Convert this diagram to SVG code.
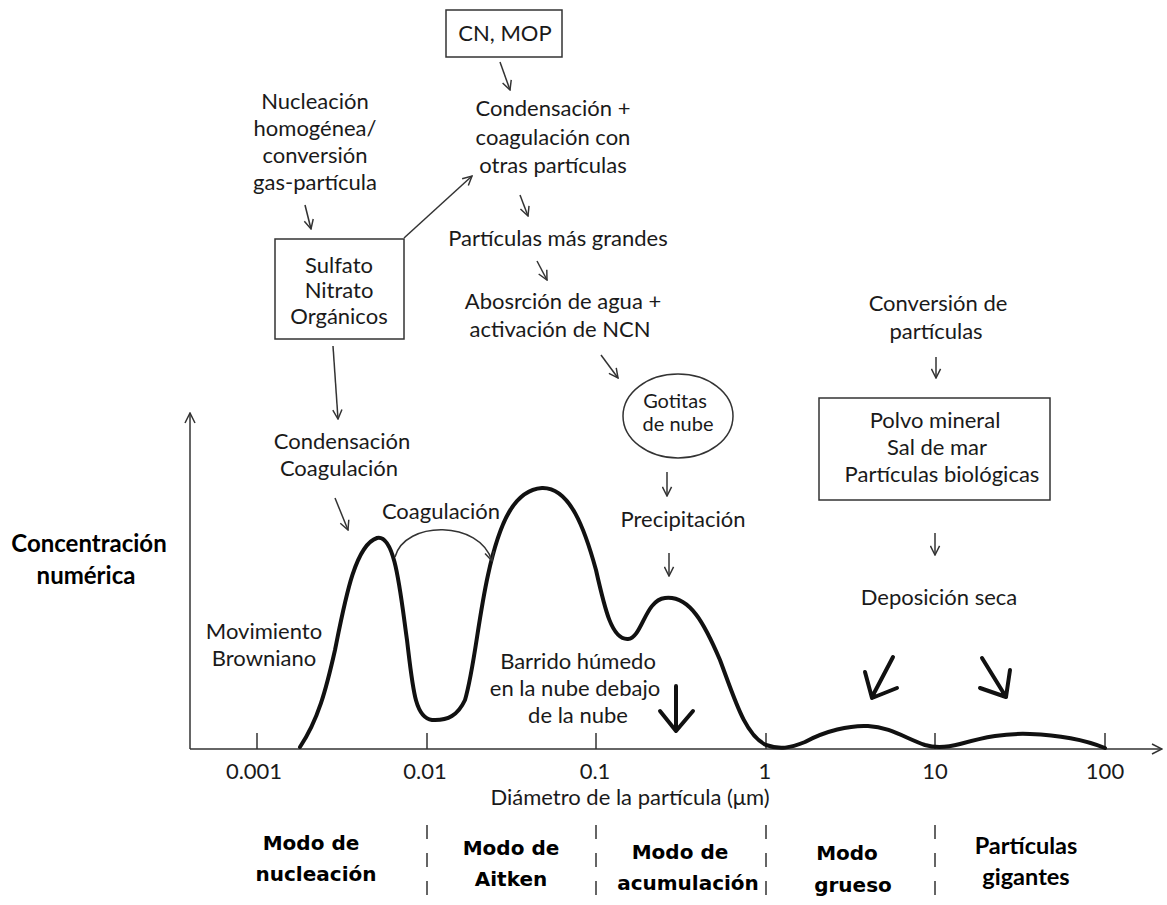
<svg xmlns="http://www.w3.org/2000/svg" width="1167" height="905" viewBox="0 0 1167 905">
<defs>
<style>
text{font-family:Lato,"Open Sans",sans-serif;fill:#1a1a1a;text-anchor:middle}
.t{font-size:22px}
.g{font-size:20px}
.b{font-size:24px;font-weight:bold;fill:#000}
.m{font-family:"DejaVu Sans",Verdana,sans-serif;font-size:20px;font-weight:bold;fill:#000}
.ax{font-size:22px}
.ln{fill:none;stroke:#333;stroke-width:1.5}
.box{fill:#fff;stroke:#333;stroke-width:1.5}
.thick{fill:none;stroke:#111;stroke-width:4;stroke-linejoin:round;stroke-linecap:round}
.dash{stroke:#333;stroke-width:1.5;stroke-dasharray:14,14}
</style>
<marker id="v" viewBox="0 0 12 12" refX="11" refY="6" markerWidth="12" markerHeight="12" markerUnits="userSpaceOnUse" orient="auto">
<path d="M1,1 L11,6 L1,11" fill="none" stroke="#333" stroke-width="1.5"/>
</marker>
<marker id="vs" viewBox="0 0 12 12" refX="11" refY="6" markerWidth="11" markerHeight="11" markerUnits="userSpaceOnUse" orient="auto">
<path d="M1,1 L11,6 L1,11" fill="none" stroke="#333" stroke-width="1.6"/>
</marker>
</defs>
<rect width="1167" height="905" fill="#fff"/>

<g id="axes">
<line x1="190" y1="749" x2="1162" y2="749" class="ln" marker-end="url(#v)"/>
<line x1="190" y1="749" x2="190" y2="413" class="ln" marker-end="url(#v)"/>
<g class="ln">
<line x1="257" y1="733" x2="257" y2="749"/>
<line x1="427" y1="733" x2="427" y2="749"/>
<line x1="596" y1="733" x2="596" y2="749"/>
<line x1="766" y1="733" x2="766" y2="749"/>
<line x1="935" y1="733" x2="935" y2="749"/>
<line x1="1105" y1="733" x2="1105" y2="749"/>
</g>
<text class="ax" x="254" y="779">0.001</text>
<text class="ax" x="425" y="779">0.01</text>
<text class="ax" x="595" y="779">0.1</text>
<text class="ax" x="765" y="779">1</text>
<text class="ax" x="935" y="779">10</text>
<text class="ax" x="1105" y="779">100</text>
<text class="ax" x="630" y="805">Diámetro de la partícula (μm)</text>
<text class="b" x="89" y="552">Concentración</text>
<text class="b" x="86" y="584">numérica</text>
</g>

<g id="curve">
<path class="thick" d="M300,747 C318,720 326,690 335,650 C345,600 355,545 377,538 C395,534 400,590 407,640 C413,690 415,718 432,720 C448,721 458,715 465,700 C474,670 478,620 488,575 C500,520 515,490 542,488 C570,487 585,530 596,570 C605,610 612,640 628,639 C642,638 645,600 665,598 C690,595 705,625 720,660 C735,700 745,735 766,745 C780,750 790,748 805,742 C825,731 850,725 868,726 C890,727 905,738 925,745 C935,748 945,748 960,744 C985,737 1005,733 1030,734 C1060,735 1085,740 1105,748"/>
</g>

<g id="modes">
<line x1="427" y1="825" x2="427" y2="905" class="dash"/>
<line x1="596" y1="825" x2="596" y2="905" class="dash"/>
<line x1="766" y1="825" x2="766" y2="905" class="dash"/>
<line x1="935" y1="825" x2="935" y2="905" class="dash"/>
<text class="m" x="311" y="850">Modo de</text>
<text class="m" x="316" y="881">nucleación</text>
<text class="m" x="511" y="855">Modo de</text>
<text class="m" x="511" y="886">Aitken</text>
<text class="m" x="680" y="859">Modo de</text>
<text class="m" x="688" y="890">acumulación</text>
<text class="m" x="847" y="860">Modo</text>
<text class="m" x="853" y="892">grueso</text>
<text class="b" x="1026" y="854" style="font-size:23.5px">Partículas</text>
<text class="b" x="1026" y="885" style="font-size:23.5px">gigantes</text>
</g>

<g id="n-cnmop"><rect class="box" x="446" y="10" width="116" height="47"/><text class="t" x="505" y="41">CN, MOP</text></g>
<g id="n-condensacion1"><text class="t" x="553" y="116">Condensación +</text><text class="t" x="553" y="145">coagulación con</text><text class="t" x="553" y="173">otras partículas</text></g>
<g id="n-grandes"><text class="t" x="558" y="246">Partículas más grandes</text></g>
<g id="n-absorcion"><text class="t" x="563" y="309">Abosrción de agua +</text><text class="t" x="560" y="337">activación de NCN</text></g>
<g id="n-gotitas"><ellipse class="box" cx="678" cy="416" rx="55" ry="42"/><text class="g" x="675" y="408">Gotitas</text><text class="g" x="678" y="431">de nube</text></g>
<g id="n-precip"><text class="t" x="683" y="527">Precipitación</text></g>
<g id="n-nucleacion"><text class="t" x="315" y="109">Nucleación</text><text class="t" x="315" y="136">homogénea/</text><text class="t" x="315" y="163">conversión</text><text class="t" x="315" y="190">gas-partícula</text></g>
<g id="n-sulfato"><rect class="box" x="275" y="239" width="129" height="100"/><text class="t" x="339" y="273">Sulfato</text><text class="t" x="339" y="298">Nitrato</text><text class="t" x="339" y="324">Orgánicos</text></g>
<g id="n-condcoag"><text class="t" x="342" y="449">Condensación</text><text class="t" x="339" y="476">Coagulación</text></g>
<g id="n-coag"><text class="t" x="441" y="519">Coagulación</text></g>
<g id="n-browniano"><text class="t" x="264" y="639">Movimiento</text><text class="t" x="264" y="666">Browniano</text></g>
<g id="n-barrido"><text class="t" x="578" y="669">Barrido húmedo</text><text class="t" x="575" y="696">en la nube debajo</text><text class="t" x="578" y="723">de la nube</text></g>
<g id="n-conversion"><text class="t" x="938" y="311">Conversión de</text><text class="t" x="936" y="339">partículas</text></g>
<g id="n-polvo"><rect class="box" x="819" y="398" width="231" height="102"/><text class="t" x="935" y="428">Polvo mineral</text><text class="t" x="937" y="455">Sal de mar</text><text class="t" x="942" y="482">Partículas biológicas</text></g>
<g id="n-deposicion"><text class="t" x="939" y="605">Deposición seca</text></g>

<g id="connectors">
<g class="ln">
<line x1="500" y1="62" x2="510" y2="90" marker-end="url(#vs)"/>
<line x1="520" y1="195" x2="528" y2="216" marker-end="url(#vs)"/>
<line x1="537" y1="261" x2="547" y2="280" marker-end="url(#vs)"/>
<line x1="601" y1="355" x2="618" y2="378" marker-end="url(#vs)"/>
<line x1="667" y1="472" x2="667" y2="496" marker-end="url(#vs)"/>
<line x1="669" y1="553" x2="669" y2="576" marker-end="url(#vs)"/>
<line x1="305" y1="205" x2="311" y2="229" marker-end="url(#vs)"/>
<line x1="404" y1="238" x2="472" y2="176" marker-end="url(#vs)"/>
<line x1="333" y1="346" x2="338" y2="419" marker-end="url(#vs)"/>
<line x1="335" y1="498" x2="348" y2="530" marker-end="url(#vs)"/>
<path d="M395,557 C405,520 480,520 492,561" marker-end="url(#vs)"/>
<line x1="936" y1="357" x2="936" y2="378" marker-end="url(#vs)"/>
<line x1="935" y1="533" x2="935" y2="555" marker-end="url(#vs)"/>
</g>
<g fill="none" stroke="#111" stroke-width="4" stroke-linecap="round" stroke-linejoin="round">
<path d="M676,686 L676,730 M660,711 L676,731 L693,711"/>
<path d="M893,657 L872,697 M865,672 L872,698 L897,688"/>
<path d="M982,658 L1006,697 M980,688 L1006,697 L1010,670"/>
</g>
</g>
</svg>
